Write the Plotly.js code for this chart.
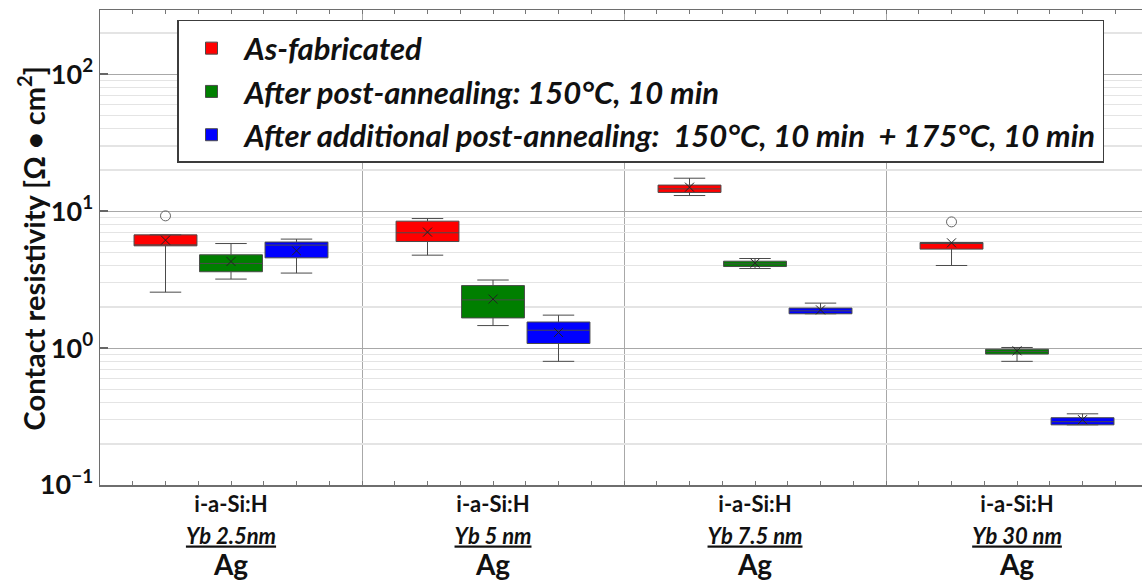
<!DOCTYPE html>
<html><head><meta charset="utf-8">
<script src="https://cdn.plot.ly/plotly-3.0.1.min.js"></script>
<style>html,body{margin:0;padding:0;background:#fff}#chart{width:1142px;height:581px}</style>
</head><body><div id="chart"></div>
<script>
// ---- data ----
const groupNames = ["Yb 2.5nm", "Yb 5 nm", "Yb 7.5 nm", "Yb 30 nm"];
const layerTop = "i-a-Si:H";
const layerBottom = "Ag";
const seriesNames = [
  "As-fabricated",
  "After post-annealing: 150°C, 10 min",
  "After additional post-annealing:\u00a0\u00a0150°C, 10 min\u00a0\u00a0+ 175°C, 10 min"
];
const seriesColors = ["#ff0000", "#007f00", "#0000ff"];
const yTitle = "Contact resistivity [Ω • cm<sup>2</sup>]";

// As-fabricated
const asFabLower  = [2.56, 4.77, 13.0, 4.01];
const asFabQ1     = [5.58, 6.00, 13.7, 5.28];
const asFabMedian = [5.60, 6.95, 14.55, 5.85];
const asFabQ3     = [6.71, 8.45, 15.5, 5.90];
const asFabUpper  = [6.71, 8.83, 17.4, 5.90];
const asFabMean   = [6.14, 7.03, 14.97, 5.87];
const asFabOutliers = [9.24, null, null, 8.35];

// After post-annealing 150 C
const ann1Lower  = [3.19, 1.46, 3.81, 0.80];
const ann1Q1     = [3.61, 1.66, 3.94, 0.904];
const ann1Median = [4.15, 2.25, 4.12, 0.945];
const ann1Q3     = [4.80, 2.86, 4.31, 0.98];
const ann1Upper  = [5.80, 3.14, 4.51, 1.01];
const ann1Mean   = [4.29, 2.28, 4.17, 0.955];

// After additional post-annealing 150 C + 175 C
const ann2Lower  = [3.53, 0.80, 1.78, 0.275];
const ann2Q1     = [4.56, 1.08, 1.78, 0.275];
const ann2Median = [5.65, 1.35, 1.87, 0.29];
const ann2Q3     = [5.94, 1.55, 1.96, 0.31];
const ann2Upper  = [6.25, 1.74, 2.13, 0.331];
const ann2Mean   = [5.13, 1.30, 1.90, 0.30];

const yTickVals = [0.1, 1, 10, 100];
const yTickText = ["10<sup>−1</sup>", "10<sup>0</sup>", "10<sup>1</sup>", "10<sup>2</sup>"];

// ---- build ----
const FONT = "Lato, 'Open Sans', sans-serif";
const nG = groupNames.length;
const offsets = [0.25, 0.5, 0.75];
const xs = s => groupNames.map((_, i) => i + offsets[s]);

const series = [
  {lower: asFabLower, q1: asFabQ1, med: asFabMedian, q3: asFabQ3, upper: asFabUpper, mean: asFabMean},
  {lower: ann1Lower, q1: ann1Q1, med: ann1Median, q3: ann1Q3, upper: ann1Upper, mean: ann1Mean},
  {lower: ann2Lower, q1: ann2Q1, med: ann2Median, q3: ann2Q3, upper: ann2Upper, mean: ann2Mean}
];

const traces = [];
traces.push({type: 'scatter', x: [], y: [], xaxis: 'x2', yaxis: 'y2', showlegend: false, hoverinfo: 'skip'});

series.forEach((s, k) => {
  traces.push({
    type: 'box', name: seriesNames[k], legendgroup: 'g' + k,
    x: xs(k), q1: s.q1, median: s.med, q3: s.q3, lowerfence: s.lower, upperfence: s.upper,
    width: 0.24, whiskerwidth: 0.5, boxpoints: false,
    fillcolor: seriesColors[k], line: {color: '#4a4a4a', width: 1}
  });
});
series.forEach((s, k) => {
  traces.push({
    type: 'scatter', mode: 'markers', x: xs(k), y: s.mean, showlegend: false, hoverinfo: 'skip',
    marker: {symbol: 'x-thin-open', size: 9, color: '#222', line: {color: '#222', width: 1}}
  });
});
const outX = [], outY = [];
asFabOutliers.forEach((v, i) => { if (v !== null) { outX.push(xs(0)[i]); outY.push(v); } });
traces.push({
  type: 'scatter', mode: 'markers', x: outX, y: outY, showlegend: false, hoverinfo: 'skip',
  marker: {symbol: 'circle-open', size: 10, color: '#666', line: {color: '#666', width: 1}}
});

const xTickVals = [], xTickText = [];
for (let i = 0; i < nG; i++) {
  for (let j = 0; j < 8; j++) {
    xTickVals.push(i + j / 8);
    xTickText.push(j === 4 ?
      `<span style="font-size:22px"><b>${layerTop}</b></span><br>` +
      `<span style="font-size:22px"><b><i><u>${groupNames[i]}</u></i></b></span><br>` +
      `<span style="font-size:28px"><b>${layerBottom}</b></span>` : '');
  }
}
const minorVals = [];
yTickVals.forEach(d => { for (let m = 2; m <= 9; m++) minorVals.push(d * m); });
const xRange = [0, 3.977];
const yRange = [-1, 2.469];

const layout = {
  width: 1142, height: 581,
  margin: {l: 100, r: 0, t: 10, b: 96},
  paper_bgcolor: '#fff', plot_bgcolor: '#fff',
  font: {family: FONT, color: '#111'},
  showlegend: true,
  legend: {
    x: 0.0739, y: 0.979, xanchor: 'left', yanchor: 'top',
    bgcolor: '#fff', bordercolor: '#3c3c3c', borderwidth: 1.5,
    font: {family: FONT, size: 31, color: '#111', weight: 700, style: 'italic'},
    traceorder: 'grouped', tracegroupgap: 0, itemwidth: 56
  },
  xaxis: {
    range: xRange, tickmode: 'array', tickvals: xTickVals, ticktext: xTickText,
    ticks: 'inside', ticklen: 4, tickcolor: '#777', tickwidth: 1, tickangle: 0,
    showline: true, linecolor: '#6e6e6e', linewidth: 1.5, mirror: 'ticks',
    showgrid: false, zeroline: false, ticklabelstandoff: -3,
    tickfont: {family: FONT, size: 24, color: '#111'}
  },
  xaxis2: {
    overlaying: 'x', anchor: 'y2', range: xRange, tickmode: 'array', tickvals: [1, 2, 3],
    showgrid: true, gridcolor: '#a8a8a8', gridwidth: 1, showticklabels: false,
    ticks: '', showline: false, zeroline: false
  },
  yaxis: {
    type: 'log', range: yRange, tickmode: 'array', tickvals: yTickVals, ticktext: yTickText,
    ticks: 'inside', ticklen: 8, tickcolor: '#666', tickwidth: 1.5,
    showline: true, linecolor: '#6e6e6e', linewidth: 1.5,
    showgrid: true, gridcolor: '#a8a8a8', gridwidth: 1, zeroline: false,
    tickfont: {family: FONT, size: 27, color: '#111', weight: 700}
  },
  yaxis2: {
    type: 'log', overlaying: 'y', anchor: 'x2', range: yRange, tickmode: 'array', tickvals: minorVals,
    showgrid: true, gridcolor: '#e4e4e4', gridwidth: 1.5, showticklabels: false,
    ticks: '', showline: false, zeroline: false
  },
  annotations: [{
    xref: 'paper', yref: 'paper', x: -0.0653, y: 0.498, xanchor: 'center', yanchor: 'middle',
    textangle: -90, showarrow: false, text: yTitle,
    font: {family: FONT, size: 29, color: '#111', weight: 700}
  }]
};

Plotly.newPlot('chart', traces, layout, {staticPlot: true, displayModeBar: false});
</script>
</body></html>
